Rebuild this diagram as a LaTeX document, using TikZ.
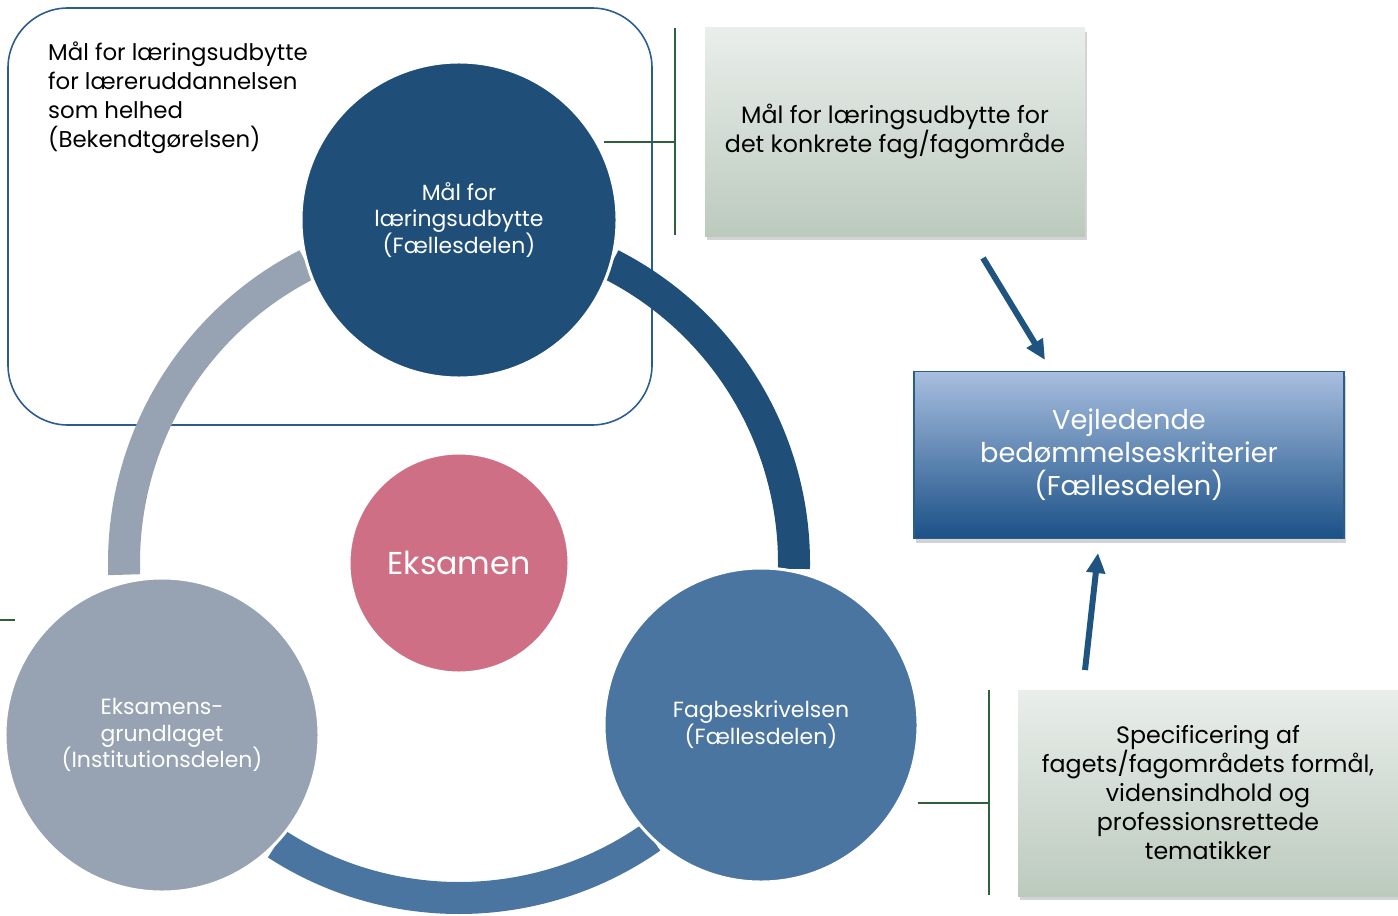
\documentclass[tikz,border=0pt]{standalone}
\usepackage{fontspec}
\setmainfont{Poppins}
\usetikzlibrary{shadows,arrows.meta}
\definecolor{topblue}{HTML}{1F4E78}
\definecolor{midblue}{HTML}{4A75A0}
\definecolor{greyblue}{HTML}{97A3B2}
\definecolor{rose}{HTML}{CE6F85}
\definecolor{frameblue}{HTML}{2B5C8F}
\definecolor{brackgreen}{HTML}{2F5F3B}
\definecolor{arrowblue}{HTML}{1F5480}
\definecolor{paletop}{HTML}{E9EEEA}
\definecolor{palebot}{HTML}{BCCABE}
\definecolor{skytop}{HTML}{A8BEDF}
\definecolor{skybot}{HTML}{1B5187}

\begin{document}
\begin{tikzpicture}[x=0.2mm,y=-0.2mm,
  ring/.style={line width=6.4mm},
  bigdot/.style={circle,draw=white,line width=1.7pt,text=white,align=center,inner sep=0pt},
  greenbox/.style={rectangle,top color=paletop,bottom color=palebot,
    drop shadow={shadow xshift=0.4mm,shadow yshift=-0.8mm,opacity=0.35},
    align=center,inner sep=0pt,font=\fontsize{13.5}{16.5}\selectfont},
  bracket/.style={brackgreen,line width=1.1pt},
  bluearrow/.style={arrowblue,line width=1.2mm,-{Triangle[length=4mm,width=3.6mm]}}]
\useasboundingbox (0,0) rectangle (1398,915);

\draw[frameblue,line width=0.9pt,rounded corners=12mm] (8,8) rectangle (652,425);
\node[anchor=north west,align=left,font=\fontsize{13}{16.5}\selectfont] (whole) at (42,36)
  {Mål for læringsudbytte\\for læreruddannelsen\\som helhed\\(Bekendtgørelsen)};

\coordinate (ctr) at (459,563);
\draw[ring,greyblue] (ctr) ++(-117:335) arc[start angle=-117,end angle=-182,radius=335];
\draw[ring,topblue] (ctr) ++(-63:335) arc[start angle=-63,end angle=1,radius=335];
\draw[ring,midblue] (ctr) ++(-237:335) arc[start angle=-237,end angle=-305,radius=335];

\node[bigdot,fill=topblue,minimum size=63.2mm,font=\fontsize{12.5}{15.3}\selectfont] (goal) at (459,220)
  {Mål for\\læringsudbytte\\(Fællesdelen)};
\node[bigdot,fill=rose,minimum size=44mm,font=\fontsize{18}{20}\selectfont] (exam) at (459,563) {Eksamen};
\node[bigdot,fill=midblue,minimum size=62.8mm,font=\fontsize{12.5}{15.3}\selectfont] (subject) at (761,725)
  {Fagbeskrivelsen\\(Fællesdelen)};
\node[bigdot,fill=greyblue,minimum size=62.8mm,font=\fontsize{12.5}{15.3}\selectfont] (basis) at (162,735)
  {Eksamens-\\grundlaget\\(Institutionsdelen)};

\node[greenbox,minimum width=76mm,minimum height=41.6mm] (specific) at (895,132)
  {Mål for læringsudbytte for\\det konkrete fag/fagområde};
\node[greenbox,minimum width=76mm,minimum height=41.2mm] (spec) at (1208,793)
  {Specificering af\\fagets/fagområdets formål,\\vidensindhold og\\professionsrettede\\tematikker};
\node[rectangle,draw=frameblue,line width=0.8pt,top color=skytop,bottom color=skybot,
  drop shadow={shadow xshift=0.4mm,shadow yshift=-0.8mm,opacity=0.35},
  minimum width=86mm,minimum height=33.4mm,text=white,align=center,
  font=\fontsize{15.5}{18.7}\selectfont] (criteria) at (1129,455)
  {Vejledende\\bedømmelseskriterier\\(Fællesdelen)};

\coordinate (b1top) at (675,28);
\coordinate (b1bot) at (675,235);
\coordinate (b1mid) at (675,142);
\coordinate (b1end) at (604,142);
\draw[bracket] (b1top) -- (b1bot);
\draw[bracket] (b1end) -- (b1mid);
\coordinate (b2top) at (989,690);
\coordinate (b2bot) at (989,895);
\coordinate (b2mid) at (989,803);
\coordinate (b2end) at (918,803);
\draw[bracket] (b2top) -- (b2bot);
\draw[bracket] (b2end) -- (b2mid);
\coordinate (stubL) at (0,620);
\coordinate (stubR) at (15,620);
\draw[bracket] (stubL) -- (stubR);

\coordinate (a1) at (983,258);
\coordinate (a1tip) at (1045,360);
\coordinate (a2) at (1085,670);
\coordinate (a2tip) at (1098,553);
\draw[bluearrow] (a1) -- (a1tip);
\draw[bluearrow] (a2) -- (a2tip);
\end{tikzpicture}
\end{document}
